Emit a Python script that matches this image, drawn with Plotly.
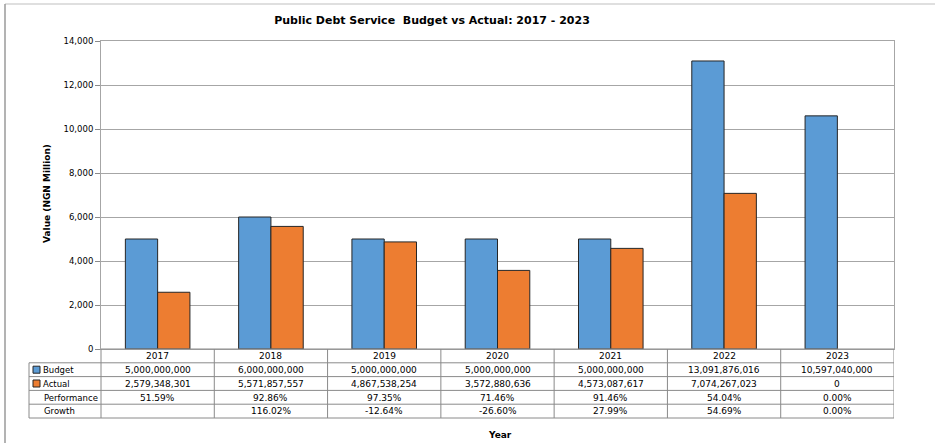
import plotly.graph_objects as go

# ---------------- data ----------------
years = ["2017", "2018", "2019", "2020", "2021", "2022", "2023"]
budget = [5000.0, 6000.0, 5000.0, 5000.0, 5000.0, 13091.876016, 10597.04]          # NGN million
actual = [2579.348301, 5571.857557, 4867.538254, 3572.880636, 4573.087617, 7074.267023, 0.0]
performance = ["51.59%", "92.86%", "97.35%", "71.46%", "91.46%", "54.04%", "0.00%"]
growth = ["", "116.02%", "-12.64%", "-26.60%", "27.99%", "54.69%", "0.00%"]
row_labels = ["Budget", "Actual", "Performance", "Growth"]

BLUE = "#5B9BD5"
ORANGE = "#ED7D31"
EDGE = "#262626"
TFONT = "DejaVu Sans"

W, H = 935, 443
L, R, T, B = 101, 894, 41, 349   # plot area in pixels

def px(x):
    return (x - L) / (R - L)

def py(y):
    return (B - y) / (B - T)

fig = go.Figure()
fig.add_trace(go.Bar(x=years, y=budget, name="Budget",
                     marker=dict(color=BLUE, line=dict(color=EDGE, width=1))))
fig.add_trace(go.Bar(x=years, y=actual, name="Actual",
                     marker=dict(color=ORANGE,
                                 line=dict(color=EDGE, width=[1 if v > 0 else 0 for v in actual]))))

shapes = []
annotations = []
TL = "#8a8a8a"

# table geometry
rh = 13.8
rows_y = [B + i * rh for i in range(6)]  # boundaries
tab_left = 29

for yb in rows_y[1:]:
    shapes.append(dict(type="line", xref="paper", yref="paper",
                       x0=px(tab_left), x1=1, y0=py(yb), y1=py(yb),
                       line=dict(color=TL, width=1)))
shapes.append(dict(type="line", xref="paper", yref="paper",
                   x0=px(tab_left), x1=px(tab_left), y0=py(rows_y[1]), y1=py(rows_y[-1]),
                   line=dict(color=TL, width=1)))
shapes.append(dict(type="line", xref="paper", yref="paper",
                   x0=0, x1=0, y0=py(rows_y[0]), y1=py(rows_y[-1]),
                   line=dict(color=TL, width=1)))
for i in range(len(years)):
    shapes.append(dict(type="line", xref="x", yref="paper",
                       x0=i + 0.5, x1=i + 0.5, y0=py(rows_y[0]), y1=py(rows_y[-1]),
                       line=dict(color=TL, width=1)))
shapes.append(dict(type="line", xref="paper", yref="paper",
                   x0=0, x1=1, y0=0, y1=0, line=dict(color=TL, width=1)))

for k, col in enumerate([BLUE, ORANGE]):
    yc = (rows_y[k + 1] + rows_y[k + 2]) / 2
    shapes.append(dict(type="rect", xref="paper", yref="paper",
                       x0=px(33), x1=px(40), y0=py(yc + 3.5), y1=py(yc - 3.5),
                       fillcolor=col, line=dict(color=EDGE, width=1)))

# outer frame
shapes.append(dict(type="line", xref="paper", yref="paper",
                   x0=px(5), x1=px(W), y0=py(4), y1=py(4),
                   line=dict(color="#d4d4d4", width=1.5)))
shapes.append(dict(type="line", xref="paper", yref="paper",
                   x0=px(5), x1=px(5), y0=py(4), y1=py(H + 5),
                   line=dict(color="#9a9a9a", width=1.5)))

def cell_text(txt, x, yc, xref="x", xanchor="center", size=9):
    annotations.append(dict(text=txt, x=x, y=py(yc), xref=xref, yref="paper",
                            xanchor=xanchor, yanchor="middle", showarrow=False,
                            font=dict(family=TFONT, size=size, color="#000000")))

budget_txt = [f"{round(v * 1e6):,}" for v in budget]
actual_txt = [f"{round(v * 1e6):,}" for v in actual]
table_rows = [years, budget_txt, actual_txt, performance, growth]
for r, vals in enumerate(table_rows):
    yc = (rows_y[r] + rows_y[r + 1]) / 2 + 0.3
    for i, v in enumerate(vals):
        if v:
            cell_text(v, i, yc)
    if r > 0:
        lx = 41 if r <= 2 else 42
        cell_text(row_labels[r - 1], px(lx), yc, xref="paper", xanchor="left", size=8.5)

annotations.append(dict(text="<b>Value (NGN Million)</b>", x=px(47), y=py(193),
                        xref="paper", yref="paper", textangle=-90, showarrow=False,
                        xanchor="center", yanchor="middle",
                        font=dict(family=TFONT, size=9, color="#000000")))
annotations.append(dict(text="<b>Year</b>", x=px(500), y=py(435),
                        xref="paper", yref="paper", showarrow=False,
                        xanchor="center", yanchor="middle",
                        font=dict(family=TFONT, size=9, color="#000000")))

fig.update_layout(
    width=W, height=H,
    margin=dict(l=L, r=W - R, t=T, b=H - B),
    paper_bgcolor="white", plot_bgcolor="white",
    showlegend=False,
    barmode="group", bargap=0.43, bargroupgap=0,
    title=dict(text="<b>Public Debt Service  Budget vs Actual: 2017 - 2023</b>",
               x=432 / W, xref="container", xanchor="center",
               y=1 - 20 / H, yref="container", yanchor="middle",
               font=dict(family=TFONT, size=11, color="#000000")),
    xaxis=dict(type="category", range=[-0.5, 6.5], showticklabels=False,
               showline=True, mirror=True, linecolor="#a6a6a6", linewidth=1,
               ticks="", showgrid=False, zeroline=False),
    yaxis=dict(range=[0, 14000], dtick=2000, tickformat=",",
               showline=True, mirror=True, linecolor="#a6a6a6", linewidth=1,
               ticks="outside", ticklen=5, tickcolor="#8a8a8a",
               gridcolor="#a6a6a6", gridwidth=1, zeroline=False,
               tickfont=dict(family=TFONT, size=8.5, color="#000000")),
    shapes=shapes, annotations=annotations,
)

fig.write_html("out.html")
